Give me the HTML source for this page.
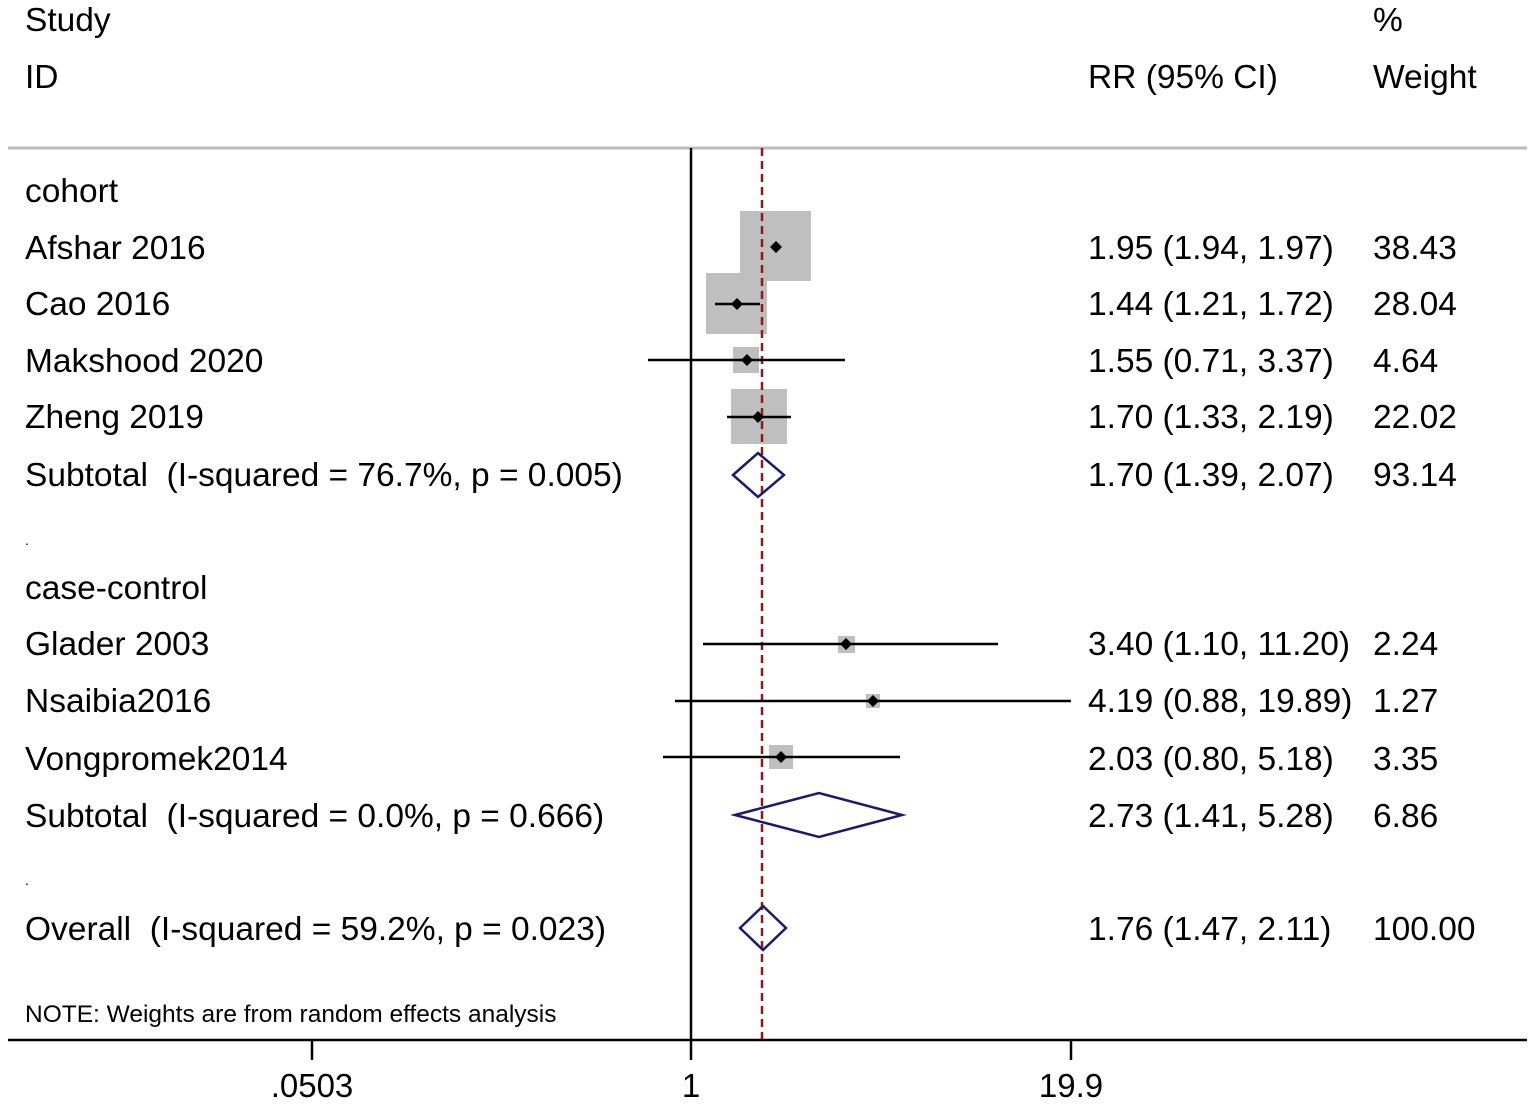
<!DOCTYPE html>
<html><head><meta charset="utf-8"><style>
body{margin:0;background:#fff;}
svg text{font-family:"Liberation Sans",Arial,sans-serif;fill:#000;}
</style></head><body>
<svg width="1535" height="1107" viewBox="0 0 1535 1107" xmlns="http://www.w3.org/2000/svg">
<rect width="1535" height="1107" fill="#fff"/>
<g font-size="33.5">
<text x="25" y="31">Study</text>
<text x="25" y="88">ID</text>
<text x="1373" y="31">%</text>
<text x="1088" y="88">RR (95% CI)</text>
<text x="1373" y="88">Weight</text>
</g>
<line x1="8" y1="148" x2="1527" y2="148" stroke="#bbb" stroke-width="3"/>
<g fill="#bfbfbf">
<rect x="740" y="211" width="71" height="70"/>
<rect x="706" y="273" width="61" height="61"/>
<rect x="733" y="347" width="26" height="26"/>
<rect x="731" y="389" width="56" height="55"/>
<rect x="838" y="636" width="17" height="17"/>
<rect x="866" y="694" width="14" height="14"/>
<rect x="769" y="745" width="24" height="24"/>
</g>
<line x1="691" y1="148" x2="691" y2="1040" stroke="#000" stroke-width="2.5"/>
<line x1="762" y1="148" x2="762" y2="1040" stroke="#8b1a1a" stroke-width="2.5" stroke-dasharray="8,5"/>
<g stroke="#000" stroke-width="2.5">
<line x1="775" y1="247" x2="777" y2="247"/>
<line x1="715" y1="304" x2="760" y2="304"/>
<line x1="648" y1="360" x2="845" y2="360"/>
<line x1="727" y1="417" x2="791" y2="417"/>
<line x1="703" y1="644" x2="998" y2="644"/>
<line x1="675" y1="701" x2="1071" y2="701"/>
<line x1="663" y1="757" x2="900" y2="757"/>
</g>
<g fill="#000">
<path d="M776 241l6 6-6 6-6-6z"/>
<path d="M737 298l6 6-6 6-6-6z"/>
<path d="M747 354l6 6-6 6-6-6z"/>
<path d="M758 411l6 6-6 6-6-6z"/>
<path d="M846 638l6 6-6 6-6-6z"/>
<path d="M873 695l6 6-6 6-6-6z"/>
<path d="M781 751l6 6-6 6-6-6z"/>
</g>
<g fill="none" stroke="#1a1a6e" stroke-width="2.5">
<path d="M733 475L758 453L784 475L758 497Z"/>
<path d="M735 815L819 793L902 815L819 837Z"/>
<path d="M740 928L763 906L786 928L763 950Z"/>
</g>
<g font-size="33.5">
<text x="25" y="202">cohort</text>
<text x="25" y="259">Afshar 2016</text>
<text x="25" y="315">Cao 2016</text>
<text x="25" y="372">Makshood 2020</text>
<text x="25" y="428">Zheng 2019</text>
<text x="25" y="486" xml:space="preserve">Subtotal  (I-squared = 76.7%, p = 0.005)</text>
<text x="25" y="545" font-size="14">.</text>
<text x="25" y="599">case-control</text>
<text x="25" y="655">Glader 2003</text>
<text x="25" y="712">Nsaibia2016</text>
<text x="25" y="770">Vongpromek2014</text>
<text x="25" y="827" xml:space="preserve">Subtotal  (I-squared = 0.0%, p = 0.666)</text>
<text x="25" y="885" font-size="14">.</text>
<text x="25" y="940" xml:space="preserve">Overall  (I-squared = 59.2%, p = 0.023)</text>
<text x="1088" y="259">1.95 (1.94, 1.97)</text><text x="1373" y="259">38.43</text>
<text x="1088" y="315">1.44 (1.21, 1.72)</text><text x="1373" y="315">28.04</text>
<text x="1088" y="372">1.55 (0.71, 3.37)</text><text x="1373" y="372">4.64</text>
<text x="1088" y="428">1.70 (1.33, 2.19)</text><text x="1373" y="428">22.02</text>
<text x="1088" y="486">1.70 (1.39, 2.07)</text><text x="1373" y="486">93.14</text>
<text x="1088" y="655">3.40 (1.10, 11.20)</text><text x="1373" y="655">2.24</text>
<text x="1088" y="712">4.19 (0.88, 19.89)</text><text x="1373" y="712">1.27</text>
<text x="1088" y="770">2.03 (0.80, 5.18)</text><text x="1373" y="770">3.35</text>
<text x="1088" y="827">2.73 (1.41, 5.28)</text><text x="1373" y="827">6.86</text>
<text x="1088" y="940">1.76 (1.47, 2.11)</text><text x="1373" y="940">100.00</text>
</g>
<text x="25" y="1022" font-size="24.5">NOTE: Weights are from random effects analysis</text>
<line x1="8" y1="1040" x2="1527" y2="1040" stroke="#000" stroke-width="2.5"/>
<g stroke="#000" stroke-width="2.5">
<line x1="312" y1="1040" x2="312" y2="1060"/>
<line x1="691" y1="1040" x2="691" y2="1060"/>
<line x1="1071" y1="1040" x2="1071" y2="1060"/>
</g>
<g font-size="33" text-anchor="middle">
<text x="312" y="1097">.0503</text>
<text x="691" y="1097">1</text>
<text x="1071" y="1097">19.9</text>
</g>
</svg>
</body></html>
